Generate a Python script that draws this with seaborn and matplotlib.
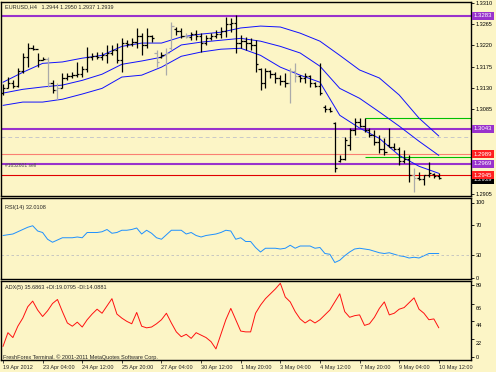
import matplotlib
matplotlib.use('Agg')
import matplotlib.pyplot as plt
import matplotlib.transforms as mtransforms
import numpy as np
import seaborn as sns

# EURUSD H4 bars
highs = [1.3138, 1.3153, 1.3146, 1.3172, 1.3204, 1.3225, 1.3221, 1.3204, 1.3195, 1.3195,
         1.3146, 1.3140, 1.3161, 1.3161, 1.3163, 1.3185, 1.3176, 1.3216, 1.3204, 1.3206,
         1.3206, 1.3221, 1.3221, 1.3225, 1.3235, 1.3231, 1.3235, 1.3257, 1.3246, 1.3257,
         1.3242, 1.3210, 1.3206, 1.3214, 1.3269, 1.3259, 1.3257, 1.3246, 1.3248, 1.3252,
         1.3246, 1.3242, 1.3246, 1.3252, 1.3259, 1.3280, 1.3278, 1.3284, 1.3242, 1.3238,
         1.3235, 1.3231, 1.3172, 1.3172, 1.3168, 1.3163, 1.3157, 1.3161, 1.3172, 1.3182,
         1.3157, 1.3161, 1.3157, 1.3142, 1.3182, 1.3093, 1.3089, 1.3057, 1.2987, 1.3026,
         1.3045, 1.3066, 1.3066, 1.3066, 1.3045, 1.3040, 1.3030, 1.3023, 1.3045, 1.3013,
         1.3004, 1.2998, 1.2987, 1.2960, 1.2951, 1.2945, 1.2973, 1.2949, 1.2950]
lows = [1.3115, 1.3129, 1.3129, 1.3132, 1.3161, 1.3174, 1.3210, 1.3174, 1.3189, 1.3132,
        1.3119, 1.3104, 1.3129, 1.3146, 1.3151, 1.3153, 1.3153, 1.3163, 1.3189, 1.3191,
        1.3189, 1.3182, 1.3199, 1.3182, 1.3163, 1.3216, 1.3218, 1.3214, 1.3199, 1.3214,
        1.3227, 1.3174, 1.3193, 1.3157, 1.3210, 1.3242, 1.3235, 1.3235, 1.3231, 1.3231,
        1.3206, 1.3221, 1.3231, 1.3235, 1.3235, 1.3238, 1.3248, 1.3204, 1.3214, 1.3210,
        1.3210, 1.3163, 1.3125, 1.3129, 1.3151, 1.3140, 1.3136, 1.3132, 1.3098, 1.3142,
        1.3142, 1.3140, 1.3132, 1.3132, 1.3115, 1.3079, 1.3079, 1.2951, 1.2973, 1.2977,
        1.2998, 1.3030, 1.3047, 1.3036, 1.3026, 1.3009, 1.2992, 1.2987, 1.3004, 1.2998,
        1.2966, 1.2970, 1.2930, 1.2909, 1.2934, 1.2924, 1.2941, 1.2939, 1.2937]
opens = [1.3120, 1.3130, 1.3140, 1.3135, 1.3165, 1.3195, 1.3215, 1.3212, 1.3190, 1.3192,
         1.3140, 1.3125, 1.3130, 1.3150, 1.3155, 1.3158, 1.3160, 1.3170, 1.3195, 1.3198,
         1.3195, 1.3200, 1.3205, 1.3210, 1.3190, 1.3225, 1.3222, 1.3228, 1.3240, 1.3220,
         1.3240, 1.3205, 1.3195, 1.3200, 1.3215, 1.3255, 1.3250, 1.3240, 1.3238, 1.3245,
         1.3240, 1.3225, 1.3235, 1.3240, 1.3245, 1.3250, 1.3265, 1.3268, 1.3225, 1.3230,
         1.3225, 1.3220, 1.3170, 1.3140, 1.3165, 1.3160, 1.3150, 1.3145, 1.3140, 1.3165,
         1.3155, 1.3150, 1.3155, 1.3140, 1.3135, 1.3090, 1.3085, 1.3055, 1.2975, 1.2980,
         1.3010, 1.3040, 1.3058, 1.3050, 1.3040, 1.3030, 1.3015, 1.3000, 1.3010, 1.3005,
         1.3000, 1.2975, 1.2980, 1.2945, 1.2940, 1.2937, 1.2945, 1.2948, 1.2944]
closes = [1.3130, 1.3140, 1.3135, 1.3165, 1.3195, 1.3215, 1.3212, 1.3190, 1.3192, 1.3140,
          1.3125, 1.3130, 1.3150, 1.3155, 1.3158, 1.3160, 1.3170, 1.3195, 1.3198, 1.3195,
          1.3200, 1.3205, 1.3210, 1.3190, 1.3225, 1.3222, 1.3228, 1.3240, 1.3220, 1.3240,
          1.3235, 1.3185, 1.3200, 1.3205, 1.3262, 1.3250, 1.3240, 1.3238, 1.3245, 1.3240,
          1.3225, 1.3235, 1.3240, 1.3245, 1.3250, 1.3265, 1.3268, 1.3225, 1.3230, 1.3225,
          1.3220, 1.3180, 1.3140, 1.3165, 1.3160, 1.3150, 1.3145, 1.3140, 1.3165, 1.3155,
          1.3150, 1.3155, 1.3140, 1.3135, 1.3120, 1.3085, 1.3082, 1.2960, 1.2980, 1.3020,
          1.3040, 1.3058, 1.3050, 1.3040, 1.3030, 1.3015, 1.3000, 1.2995, 1.3005, 1.3000,
          1.2975, 1.2980, 1.2945, 1.2940, 1.2937, 1.2945, 1.2950, 1.2944, 1.2939]
gray_bars = [9, 11, 31, 33, 34, 37, 58, 59, 83]

# Bollinger bands, read every 4 bars
band_idx = list(range(0, 89, 4))
band_upper = [1.3142, 1.3163, 1.3182, 1.3185, 1.3193, 1.3199, 1.3218, 1.3225, 1.3225, 1.3238,
              1.3244, 1.3248, 1.3257, 1.3261, 1.3259, 1.3246, 1.3229, 1.3199, 1.3168, 1.3151,
              1.3115, 1.3066, 1.3028]
band_mid = [1.3119, 1.3127, 1.3132, 1.3136, 1.3146, 1.3159, 1.3180, 1.3187, 1.3195, 1.3221,
            1.3227, 1.3231, 1.3235, 1.3229, 1.3218, 1.3204, 1.3176, 1.3129, 1.3108, 1.3079,
            1.3049, 1.3017, 1.2987]
band_lower = [1.3093, 1.3100, 1.3100, 1.3106, 1.3117, 1.3129, 1.3153, 1.3157, 1.3174, 1.3197,
              1.3206, 1.3212, 1.3214, 1.3199, 1.3174, 1.3157, 1.3142, 1.3072, 1.3045, 1.3023,
              1.2987, 1.2964, 1.2949]

rsi = [56, 57, 58, 61, 64, 67, 69, 62, 60, 51, 47, 50, 53, 53, 53, 54, 53, 60, 60, 60,
       61, 64, 59, 60, 63, 63, 64, 66, 58, 63, 59, 53, 51, 57, 63, 63, 63, 58, 60, 56,
       54, 56, 57, 58, 60, 63, 62, 51, 53, 48, 48, 40, 34, 39, 39, 39, 38, 39, 43, 39,
       42, 42, 42, 39, 40, 32, 31, 20, 23, 29, 34, 38, 39, 38, 37, 35, 33, 32, 33, 31,
       29, 28, 26, 27, 26, 29, 32, 32, 32]
adx = [13, 30, 24, 38, 48, 62, 69, 58, 50, 57, 66, 71, 56, 42, 38, 43, 37, 46, 53, 59,
       54, 63, 72, 53, 48, 44, 41, 55, 38, 36, 37, 41, 46, 54, 42, 31, 25, 28, 23, 30,
       27, 24, 19, 10, 28, 46, 60, 46, 32, 31, 31, 54, 64, 72, 78, 84, 91, 74, 68, 56,
       47, 42, 46, 42, 46, 52, 58, 68, 78, 56, 49, 51, 52, 39, 41, 49, 60, 68, 52, 54,
       59, 61, 67, 73, 59, 54, 46, 47, 36]

time_labels = ['19 Apr 2012', '23 Apr 04:00', '24 Apr 12:00', '25 Apr 20:00', '27 Apr 04:00',
               '30 Apr 12:00', '1 May 20:00', '3 May 04:00', '4 May 12:00', '7 May 20:00',
               '9 May 04:00', '10 May 12:00']
price_ticks = [1.3310, 1.3265, 1.3220, 1.3175, 1.3130, 1.3085, 1.3040, 1.2995, 1.2950, 1.2905]
hidden_ticks = [1.3040, 1.2995, 1.2950]   # covered by the level boxes in the reference
purple_levels = [1.3283, 1.3043, 1.2969]
salmon_level = 1.2989
red_level = 1.2945
green_levels = [1.3066, 1.2983]
green_start = 73
dashed_level = 1.3027
price_boxes = [('1.3283', 1.3283, '#9932CC'), ('1.3043', 1.3043, '#9932CC'),
               ('1.2989', 1.2989, '#FF2020'), ('1.2969', 1.2969, '#9932CC'),
               ('1.2939', 1.2935, 'black'), ('1.2945', 1.2945, '#FF2020')]

bg = '#FCF5C6'
sns.set_style('white')
plt.rcParams['font.family'] = ['Liberation Sans', 'DejaVu Sans']
plt.rcParams['font.size'] = 4

W, H = 496, 372
fig = plt.figure(figsize=(W / 100, H / 100), dpi=100, facecolor=bg)

def px_axes(x0, y0, x1, y1):
    return fig.add_axes([x0 / W, 1 - y1 / H, (x1 - x0) / W, (y1 - y0) / H])

ax = px_axes(1, 2, 471, 196)
ax_rsi = px_axes(1, 198, 471, 279)
ax_adx = px_axes(1, 281, 471, 360)

n = len(highs)
idx = np.arange(n)
xlim = (-0.4, 94.5)

for a in (ax, ax_rsi, ax_adx):
    a.set_facecolor(bg)
    a.set_xlim(*xlim)
    for s in a.spines.values():
        s.set_color('black')
        s.set_linewidth(1.0)
    a.yaxis.tick_right()
    a.tick_params(axis='y', direction='out', length=2, width=0.6, pad=1.5,
                  labelsize=4, colors='black', right=True, left=False)
    a.tick_params(axis='x', bottom=False, labelbottom=False)

# main price panel
ax.set_ylim(1.2901, 1.3312)
ax.set_yticks(price_ticks)
ax.set_yticklabels(['' if p in hidden_ticks else '%.4f' % p for p in price_ticks])

ax.axhline(dashed_level, color='#C8C8C8', lw=0.7, ls=(0, (4, 3)), zorder=1)
for lv in purple_levels:
    ax.axhline(lv, color='#9932CC', lw=1.5, zorder=2)
ax.axhline(salmon_level, color='#FA8072', lw=0.8, zorder=2)
ax.axhline(red_level, color='#E00000', lw=0.8, zorder=2)
ax.hlines(green_levels, green_start, xlim[1], color='#00C000', lw=0.8, zorder=2)

sns.lineplot(x=band_idx, y=band_upper, ax=ax, color='#1010FF', lw=0.7, zorder=3)
sns.lineplot(x=band_idx, y=band_mid, ax=ax, color='#1010FF', lw=0.7, zorder=3)
sns.lineplot(x=band_idx, y=band_lower, ax=ax, color='#1010FF', lw=0.7, zorder=3)

bar_colors = ['#AAAAAA' if i in gray_bars else 'black' for i in range(n)]
ax.vlines(idx, lows, highs, colors=bar_colors, lw=0.9, zorder=4)
ax.hlines(opens, idx - 0.45, idx, colors=bar_colors, lw=0.9, zorder=4)
ax.hlines(closes, idx, idx + 0.45, colors=bar_colors, lw=0.9, zorder=4)

trans = mtransforms.blended_transform_factory(ax.transAxes, ax.transData)
for lab, lv, col in price_boxes:
    ax.text(1.006, lv, lab, transform=trans, ha='left', va='center', color='white',
            fontsize=4.3, clip_on=False, zorder=10,
            bbox=dict(boxstyle='square,pad=0.25', fc=col, ec='none'))

ax.text(0.009, 1.29665, '#1652601 sell', transform=trans, fontsize=3.6,
        color='#505050', va='center', zorder=5)
ax.set_xlabel('')
ax.set_ylabel('')

# RSI panel
sns.lineplot(x=idx, y=rsi, ax=ax_rsi, color='#1E90FF', lw=0.7)
ax_rsi.axhline(30, color='#C0C0C0', lw=0.6, ls=(0, (3, 3)))
ax_rsi.set_ylim(-2, 106)
ax_rsi.set_yticks([100, 70, 30, 0])
ax_rsi.set_yticklabels(['100', '70', '30', '0'])
ax_rsi.text(0.008, 0.88, 'RSI(14) 32.0108', transform=ax_rsi.transAxes, fontsize=4,
            va='center')
ax_rsi.set_ylabel('')

# ADX panel
sns.lineplot(x=idx, y=adx, ax=ax_adx, color='#FF1010', lw=0.7)
ax_adx.set_ylim(-3.7, 93.8)
ax_adx.set_yticks([89, 66, 44, 22, 0])
ax_adx.set_yticklabels(['89', '66', '44', '22', '0'])
shift = mtransforms.ScaledTranslation(0, -4 / 100, fig.dpi_scale_trans)
for t in ax_adx.get_yticklabels()[1:4]:
    t.set_transform(t.get_transform() + shift)
ax_adx.text(0.008, 0.92, 'ADX(5) 35.6863 +DI:19.0795 -DI:14.0881',
            transform=ax_adx.transAxes, fontsize=4, va='center')
ax_adx.text(0.005, 0.04, 'FreshForex Terminal. \u00a9 2001-2011 MetaQuotes Software Corp.',
            transform=ax_adx.transAxes, fontsize=4, va='center')
ax_adx.set_ylabel('')

ax_adx.tick_params(axis='x', bottom=True, labelbottom=True, direction='out',
                   length=2, width=0.6, pad=1.5, labelsize=4)
ax_adx.set_xticks(list(range(0, 89, 8)))
ax_adx.set_xticklabels(time_labels, ha='left')

fig.text(5 / W, 1 - 6.5 / H, 'EURUSD,H4   1.2944 1.2950 1.2937 1.2939', fontsize=4,
         va='center', ha='left')

fig.savefig('out.png', dpi=100, facecolor=bg)
